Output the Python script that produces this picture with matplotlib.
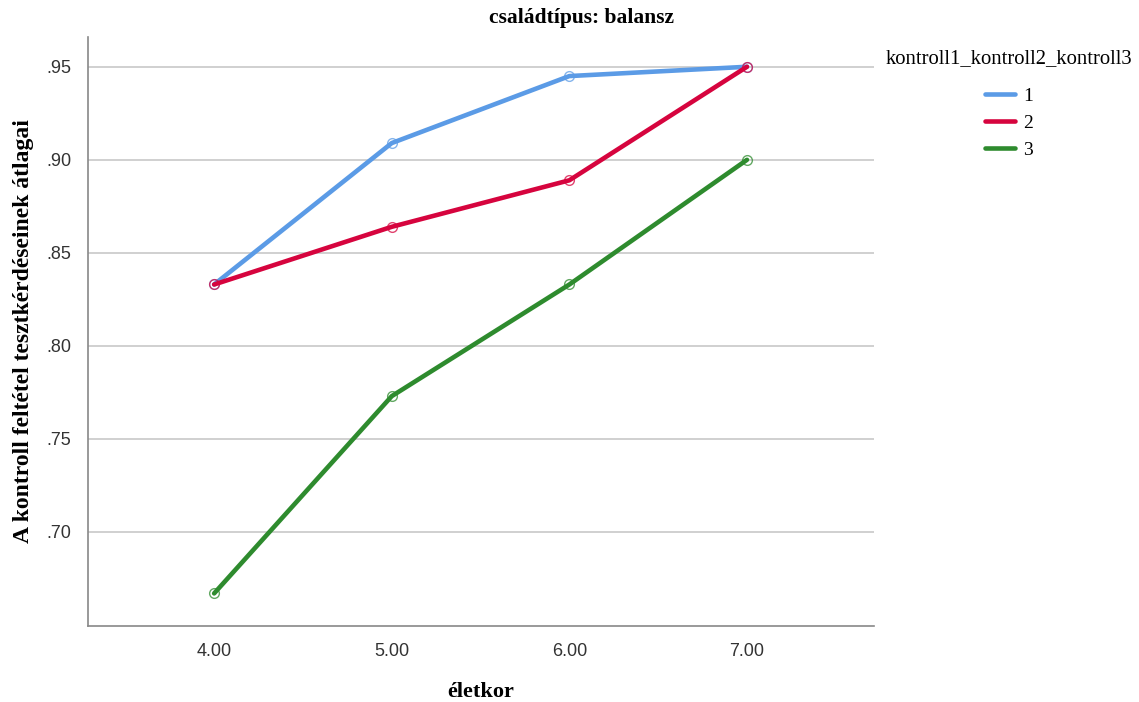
import matplotlib
matplotlib.use("Agg")
import matplotlib.pyplot as plt

# adatok
eletkor = [4, 5, 6, 7]
csoportok = ["1", "2", "3"]
atlag_1 = [0.833, 0.909, 0.945, 0.950]
atlag_2 = [0.833, 0.864, 0.889, 0.950]
atlag_3 = [0.667, 0.773, 0.833, 0.900]
y_ticks = [0.70, 0.75, 0.80, 0.85, 0.90, 0.95]

colors = ["#5b9be6", "#d6043e", "#2e8b2e"]
serif = ["Liberation Serif", "DejaVu Serif"]
narrow = ["Liberation Sans Narrow", "Liberation Sans", "DejaVu Sans"]

fig = plt.figure(figsize=(11.39, 7.02), dpi=100)
ax = fig.add_axes([0.0773, 0.1083, 0.69, 0.839])

lines = []
for vals, c, name in zip([atlag_1, atlag_2, atlag_3], colors, csoportok):
    ln, = ax.plot(eletkor, vals, color=c, lw=3.3, solid_capstyle="round", label=name)
    ax.plot(eletkor, vals, ls="none", marker="o", ms=7, mfc="none",
            mec=c, mew=1.0, alpha=0.75)
    lines.append(ln)

ax.set_xlim(3.29, 7.715)
ax.set_ylim(0.6495, 0.966)
ax.set_xticks(eletkor)
ax.set_xticklabels([f"{v:.2f}" for v in eletkor], family=narrow, fontsize=13, color="#333333")
ax.set_yticks(y_ticks)
ax.set_yticklabels([f"{v:.2f}"[1:] for v in y_ticks], family=narrow, fontsize=13, color="#333333")
ax.tick_params(length=0, pad=12)
ax.grid(axis="y", color="#c8c8c8", lw=1.2)
ax.set_axisbelow(True)
for s in ["top", "right"]:
    ax.spines[s].set_visible(False)
for s in ["left", "bottom"]:
    ax.spines[s].set_color("#888888")
    ax.spines[s].set_linewidth(1.2)

fig.text(581 / 1139, 1 - 18 / 702, "családtípus: balansz", family=serif,
         fontweight="bold", fontsize=15.5, ha="center", va="center")
ax.set_xlabel("életkor", family=serif, fontweight="bold", fontsize=16, labelpad=16)
ax.set_ylabel("A kontroll feltétel tesztkérdéseinek átlagai", family=serif,
              fontweight="bold", fontsize=17, labelpad=9)

fig.text(886 / 1139, 1 - 59 / 702, "kontroll1_kontroll2_kontroll3", family=serif,
         fontsize=14.9, va="center", ha="left")
fig.legend(handles=lines, loc="upper left", bbox_to_anchor=(985 / 1139, 1 - 87 / 702),
           frameon=False, prop={"family": serif, "size": 14},
           handlelength=1.55, handletextpad=0.4, labelspacing=0.5,
           borderpad=0, borderaxespad=0)

fig.savefig("out.png", dpi=100)
